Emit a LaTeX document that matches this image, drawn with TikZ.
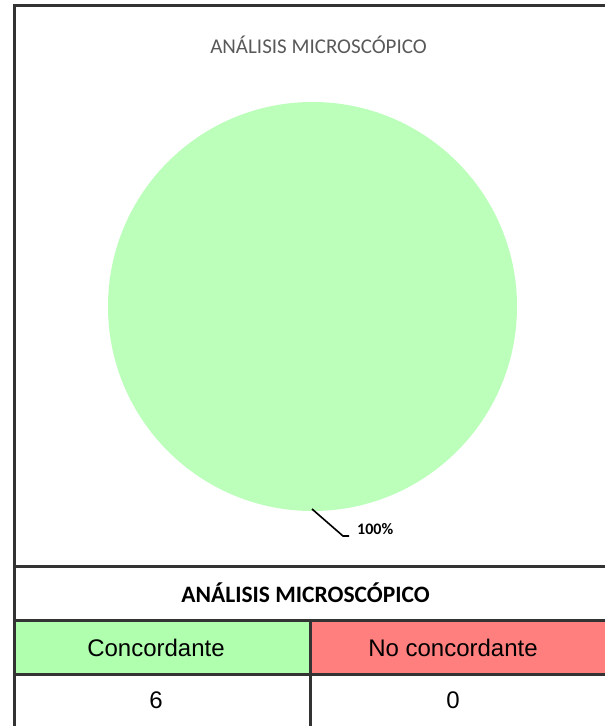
\documentclass[tikz,border=0pt]{standalone}
\usepackage{fontspec}
\setmainfont{Carlito}
\newfontfamily\arialf{Liberation Sans}
\definecolor{piegreen}{HTML}{BBFFBB}
\definecolor{cellgreen}{HTML}{AFFFAF}
\definecolor{cellred}{HTML}{FF7F7F}
\definecolor{rule}{HTML}{333333}
\definecolor{titlegray}{HTML}{595959}
\begin{document}
\begin{tikzpicture}[x=1pt,y=-1pt,
  rulel/.style={draw=rule,line width=3pt},
  celltext/.style={font=\arialf\fontsize{24}{28}\selectfont,anchor=center,inner sep=0pt}]
\useasboundingbox (0,0) rectangle (605,726);
% cells
\fill[cellgreen] (14,620) rectangle (310.5,674.5);
\fill[cellred] (310.5,620) rectangle (605,674.5);
% pie
\node[circle,fill=piegreen,minimum size=409pt,inner sep=0pt] (pie) at (312.5,306.5) {};
\coordinate (l1) at (312,509);
\coordinate (l2) at (343,536);
\coordinate (l3) at (349,536);
\draw[line width=1.6pt,black] (l1) -- (l2) -- (l3);
\node[anchor=west,inner sep=0pt,font=\bfseries\fontsize{16}{19}\selectfont] (pct) at (357,529) {100\%};
% title
\node[font=\fontsize{21}{25}\selectfont,text=titlegray,inner sep=0pt] (title) at (318.5,45) {ANÁLISIS MICROSCÓPICO};
% rules
\draw[rulel] (14,5.5) -- (605,5.5);
\draw[rulel] (14,4) -- (14,726);
\draw[rulel] (14,566) -- (605,566);
\draw[rulel] (14,620) -- (605,620);
\draw[rulel] (14,674.5) -- (605,674.5);
\draw[rulel] (310.5,620) -- (310.5,726);
% table text
\node[font=\bfseries\fontsize{23.5}{27}\selectfont,inner sep=0pt] (head) at (305.5,593) {ANÁLISIS MICROSCÓPICO};
\node[celltext] (c1) at (156,648) {Concordante};
\node[celltext] (c2) at (453,648) {No concordante};
\node[celltext] (n1) at (156,700) {6};
\node[celltext] (n2) at (453,700) {0};
\end{tikzpicture}
\end{document}
